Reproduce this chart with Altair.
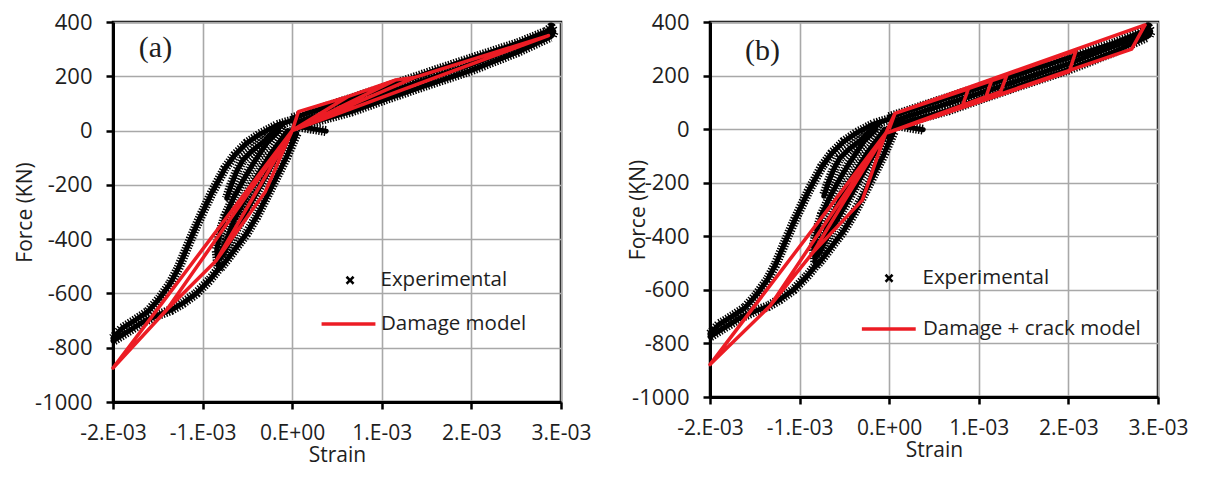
import altair as alt
import pandas as pd

RED = "#ec1c24"
FONT = "Open Sans"
TXT = "#1e1e1e"

# ---------------- Experimental data (strain in 1e-3, force in kN) ----------------
exp_top_s = [0.00, 0.48, 1.04, 1.59, 2.00, 2.52, 2.84, 2.89, 2.92, 2.90]
exp_top_f = [45, 98, 159, 221, 266, 322, 365, 380, 365, 350]
exp_mid_s = [0.07, 1.04, 2.00, 2.88]
exp_mid_f = [33, 137, 244, 360]
exp_bot_s = [0.05, 0.66, 1.04, 1.48, 2.00, 2.52, 2.88]
exp_bot_f = [15, 70, 115, 165, 222, 290, 345]
exp_spur_s = [0.02, 0.20, 0.38]
exp_spur_f = [18, 8, -2]
exp_spike_s = [0.02, 0.00]
exp_spike_f = [10, -40]
exp_outer_s = [0.03, -0.17, -0.36, -0.51, -0.64, -0.75, -0.82, -0.90, -0.97, -1.05,
               -1.13, -1.20, -1.27, -1.36, -1.48, -1.61, -1.75, -1.90, -2.00]
exp_outer_f = [40, 20, -13, -47, -90, -139, -182, -231, -280, -336,
               -397, -452, -507, -563, -618, -667, -698, -729, -765]
exp_outer2_s = [-0.10, -0.32, -0.45, -0.55, -0.62, -0.68, -0.73]
exp_outer2_f = [25, -41, -75, -108, -150, -200, -250]
exp_in1_s = [-0.15, -0.285, -0.434, -0.545, -0.657, -0.75, -0.806, -0.843, -0.824]
exp_in1_f = [0, -47, -121, -182, -250, -317, -379, -440, -501]
exp_in2_s = [0.05, -0.062, -0.173, -0.285, -0.397, -0.508, -0.620, -0.731, -0.806]
exp_in2_f = [-10, -96, -170, -244, -317, -379, -428, -477, -508]
exp_in3_s = [0.00, -0.20, -0.40, -0.60, -0.80]
exp_in3_f = [0, -110, -230, -350, -470]
exp_in4_s = [-0.05, -0.25, -0.45, -0.65, -0.80]
exp_in4_f = [0, -90, -200, -330, -460]
exp_low_s = [-0.81, -0.92, -1.07, -1.22, -1.35, -1.50, -1.66, -1.81, -2.00]
exp_low_f = [-505, -550, -600, -636, -661, -680, -704, -735, -775]

# ---------------- Model (a): damage model ----------------
ma_s = [0.00, 0.07, 0.62, 0.00, -0.30, 0.00, 0.62, 1.15, 0.00, -0.30, -0.85, 0.00,
        1.15, 1.37, 0.00, -0.85, -1.40, 0.00, 1.37, 2.86, 0.00, -1.40, -2.00, 0.00]
ma_f = [0, 70, 125, 0, -225, 0, 125, 186, 0, -225, -480, 0,
        186, 196, 0, -480, -660, 0, 196, 350, 0, -660, -875, 0]

# ---------------- Model (b): damage + crack model ----------------
mb_s = [0.00, 0.065, 0.883, 0.809, -0.04, -0.30, -0.04, 0.065, 1.144, 1.080, -0.04,
        -0.30, -0.85, -0.04, 0.065, 1.311, 1.244, -0.04, -0.85, -1.33, -0.04, 0.065,
        2.085, 2.010, -0.04, 0.065, 2.855, 2.706, -0.04, -1.33, -2.00, -0.04]
mb_f = [0, 59, 150, 80, -16, -265, -16, 59, 182, 121, -16,
        -265, -460, -16, 59, 200, 140, -16, -460, -660, -16, 59,
        293, 215, -16, 59, 389, 299, -16, -660, -879, -16]

x_ticks = [-2, -1, 0, 1, 2, 3]
y_ticks = [-1000, -800, -600, -400, -200, 0, 200, 400]
EXP_LABEL = "Experimental"

exp_segments = [
    ("top", exp_top_s, exp_top_f), ("mid", exp_mid_s, exp_mid_f),
    ("bot", exp_bot_s, exp_bot_f), ("spur", exp_spur_s, exp_spur_f),
    ("spike", exp_spike_s, exp_spike_f), ("outer", exp_outer_s, exp_outer_f),
    ("outer2", exp_outer2_s, exp_outer2_f), ("in1", exp_in1_s, exp_in1_f),
    ("in2", exp_in2_s, exp_in2_f), ("in3", exp_in3_s, exp_in3_f),
    ("in4", exp_in4_s, exp_in4_f), ("low", exp_low_s, exp_low_f),
]
rows = []
for name, ss, ff in exp_segments:
    for i, (s, f) in enumerate(zip(ss, ff)):
        rows.append({"strain": s, "force": f, "seg": name, "ord": i, "series": EXP_LABEL})
exp_df = pd.DataFrame(rows)


def panel(model_s, model_f, model_label, tag, height, exp_leg, mod_leg,
          tag_x, tag_y, ytitle_x):
    mod_df = pd.DataFrame({"strain": model_s, "force": model_f,
                           "ord": list(range(len(model_s))), "series": model_label})
    xenc = alt.X("strain:Q",
                 scale=alt.Scale(domain=[-2, 3], nice=False, zero=False),
                 axis=alt.Axis(values=x_ticks, labelOverlap=False, labelFlush=False,
                               labelExpr="datum.value == 0 ? '0.E+00' : datum.value + '.E-03'",
                               title="Strain", labelPadding=13, titlePadding=1.5,
                               labelFontSize=21))
    yenc = alt.Y("force:Q",
                 scale=alt.Scale(domain=[-1000, 400], nice=False, zero=False),
                 axis=alt.Axis(values=y_ticks, labelExpr="'' + datum.value",
                               labelOverlap=False, labelFlush=False,
                               title="Force (KN)", titleX=ytitle_x, titleY=height / 2,
                               titleAngle=-90, titleAlign="center", titleBaseline="middle",
                               labelPadding=14))
    stroke = alt.Stroke(
        "series:N",
        scale=alt.Scale(domain=[EXP_LABEL], range=["black"]),
        legend=alt.Legend(
            orient="none", legendX=exp_leg[0], legendY=exp_leg[1], title=None,
            labelFont=FONT, labelFontSize=20.5, labelColor=TXT, labelLimit=400,
            symbolType="M-1,-1L1,1M1,-1L-1,1", symbolSize=49, symbolStrokeWidth=2.6,
            symbolDash=[1, 0], labelOffset=exp_leg[2], padding=0),
    )
    color = alt.Color(
        "series:N",
        scale=alt.Scale(domain=[model_label], range=[RED]),
        legend=alt.Legend(
            orient="none", legendX=mod_leg[0], legendY=mod_leg[1], title=None,
            labelFont=FONT, labelFontSize=20.5, labelColor=TXT, labelLimit=400,
            symbolType="stroke", symbolSize=2900, symbolStrokeWidth=3.5,
            labelOffset=mod_leg[2], padding=0),
    )
    base_exp = alt.Chart(exp_df)
    exp_core = base_exp.mark_line(strokeWidth=5, strokeJoin="round", strokeCap="round").encode(
        x=xenc, y=yenc, stroke=stroke, detail="seg:N", order="ord:Q")
    exp_teeth = base_exp.mark_line(strokeWidth=10, strokeDash=[1.4, 1.4], color="black",
                                   strokeJoin="round").encode(
        x=xenc, y=yenc, detail="seg:N", order="ord:Q")
    model = alt.Chart(mod_df).mark_line(strokeWidth=3.5, strokeJoin="round").encode(
        x=xenc, y=yenc, color=color, order="ord:Q")
    label = alt.Chart(pd.DataFrame({"t": [tag]})).mark_text(
        font="Liberation Serif", fontSize=30, color=TXT, align="center", baseline="middle"
    ).encode(text="t:N", x=alt.value(tag_x), y=alt.value(tag_y))
    return alt.layer(exp_core, exp_teeth, model, label).properties(
        width=448, height=height,
        view=alt.ViewBackground(stroke="black", strokeWidth=2.5))


pa = panel(ma_s, ma_f, "Damage model", "(a)", 380,
           (226.8, 248, 20.2), (206.5, 273, 3.5), 42.5, 25.5, -88)
pb = panel(mb_s, mb_f, "Damage + crack model", "(b)", 375,
           (168.8, 246, 23.2), (149.8, 278, 5.2), 52.5, 28.5, -72)

chart = alt.hconcat(pa, pb, spacing=32).resolve_scale(
    color="independent", stroke="independent").resolve_legend(
    color="independent", stroke="independent").properties(
    padding={"left": 4, "top": 1, "right": 0, "bottom": -2},
    background="white",
).configure_axis(
    domainColor="black", domainWidth=3, tickColor="black", tickWidth=2.5, tickSize=7,
    gridColor="#a8a8a8", gridWidth=1.6, grid=True,
    labelFont=FONT, labelFontSize=22, labelColor=TXT,
    titleFont=FONT, titleFontSize=21, titleFontWeight="normal", titleColor=TXT,
)

chart.save("out.html", embed_options={"renderer": "svg", "actions": False})
